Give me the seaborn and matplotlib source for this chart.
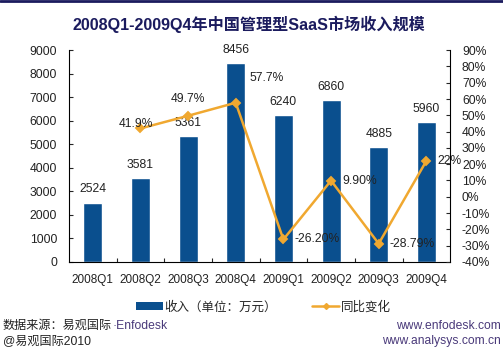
import matplotlib
matplotlib.use("Agg")
import matplotlib.pyplot as plt
from matplotlib.lines import Line2D
from matplotlib.patches import Patch
import pandas as pd
import seaborn as sns

quarters = ["2008Q1", "2008Q2", "2008Q3", "2008Q4", "2009Q1", "2009Q2", "2009Q3", "2009Q4"]
revenue = [2524, 3581, 5361, 8456, 6240, 6860, 4885, 5960]
growth = [None, 41.9, 49.7, 57.7, -26.2, 9.9, -28.79, 22.0]
growth_labels = ["", "41.9%", "49.7%", "57.7%", "-26.20%", "9.90%", "-28.79%", "22%"]

bar_color = "#0a4f8e"
line_color = "#f0a830"
title_color = "#1b1b5e"
text_color = "#222222"

sns.set_style("white")
plt.rcParams["font.family"] = ["Liberation Sans", "Noto Sans CJK SC"]

df = pd.DataFrame({"季度": quarters, "收入": revenue, "同比": growth})

fig = plt.figure(figsize=(5.03, 3.53), dpi=100)
ax = fig.add_axes([0.137, 0.258, 0.758, 0.6])

sns.barplot(data=df, x="季度", y="收入", order=quarters, color=bar_color,
            width=0.4, saturation=1, ax=ax, zorder=2)
ax.set_xlim(-0.5, 7.5)
ax.set_ylim(0, 9000)
ax.set_yticks(range(0, 9001, 1000))
ax.set_xlabel("")
ax.set_ylabel("")
ax.tick_params(axis="y", labelsize=8.7, labelcolor=text_color, length=3, width=0.8,
               direction="in", left=True, pad=8.5)
ax.tick_params(axis="x", labelsize=8.5, labelcolor=text_color, length=0, pad=9)
ax.set_xticks([i + 0.5 for i in range(7)], minor=True)
ax.tick_params(axis="x", which="minor", length=3, width=0.8, direction="in", bottom=True)
for s in ["left", "bottom"]:
    ax.spines[s].set_color("#000000")
    ax.spines[s].set_linewidth(0.8)
ax.spines["top"].set_visible(False)
ax.spines["right"].set_visible(False)

for i, v in enumerate(revenue):
    ax.text(i, v + 300, str(v), ha="center", va="bottom", fontsize=8.7, color=text_color, zorder=5)

ax2 = ax.twinx()
sns.pointplot(data=df, x="季度", y="同比", order=quarters, color=line_color,
              markers="D", markersize=4, linewidth=1.8, ax=ax2)
ax2.set_xlim(-0.5, 7.5)
ax2.set_ylim(-40, 90)
ax2.set_yticks(range(-40, 91, 10))
ax2.set_yticklabels([f"{t}%" for t in range(-40, 91, 10)])
ax2.set_ylabel("")
ax2.set_xlabel("")
ax2.tick_params(axis="y", labelsize=8.7, labelcolor=text_color, length=3, width=0.8,
                direction="in", right=True, pad=8.5)
ax2.spines["right"].set_color("#000000")
ax2.spines["right"].set_linewidth(0.8)
for s in ["top", "left", "bottom"]:
    ax2.spines[s].set_visible(False)

# label offsets (points) for the growth values
offsets = [(0, 0), (-3.5, 3), (0, 12), (22, 18), (8, 0), (8, 0), (7.5, 0), (8, 0)]
for i, (g, lab) in enumerate(zip(growth, growth_labels)):
    if g is None:
        continue
    dx, dy = offsets[i]
    kw = {}
    if i == 3:
        kw["bbox"] = dict(boxstyle="square,pad=0.1", fc="white", ec="none")
    ax2.annotate(lab, (i, g), xytext=(dx, dy), textcoords="offset points",
                 ha="center" if i < 4 else "left", va="center",
                 fontsize=8.7, color=text_color, zorder=6, **kw)

fig.text(0.495, 0.932, "2008Q1-2009Q4年中国管理型SaaS市场收入规模", ha="center", va="center",
         fontsize=11.6, fontweight="bold", color=title_color)
fig.add_artist(Line2D([0, 1], [0.997, 0.997], color="#1b1b5e", linewidth=2))

handles = [Patch(facecolor=bar_color, edgecolor="none"),
           Line2D([0], [0], color=line_color, marker="D", markersize=3, linewidth=1.8)]
fig.legend(handles, ["收入（单位：万元）", "同比变化"], loc="center", bbox_to_anchor=(0.523, 0.13),
           ncol=2, frameon=False, fontsize=9, handlelength=2.2, handleheight=0.6,
           columnspacing=2.8, handletextpad=0.1)

src = fig.text(0.006, 0.076, "数据来源：易观国际", ha="left", va="center", fontsize=8.7, color=text_color)
ax.annotate("·Enfodesk", xy=(1, 0.5), xycoords=src, ha="left", va="center",
            fontsize=8.7, color="#4a3a7a", annotation_clip=False)
fig.text(0.006, 0.034, "@易观国际2010", ha="left", va="center", fontsize=8.7, color=text_color)
fig.text(0.995, 0.076, "www.enfodesk.com", ha="right", va="center", fontsize=8.7, color="#4a3a7a")
fig.text(0.995, 0.034, "www.analysys.com.cn", ha="right", va="center", fontsize=8.7, color="#4a3a7a")

fig.savefig("out.png", dpi=100, facecolor="white")
